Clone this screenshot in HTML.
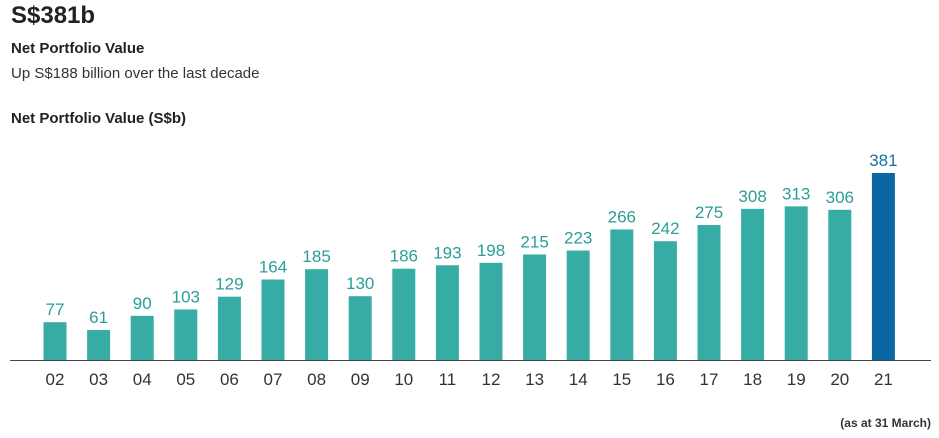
<!DOCTYPE html>
<html><head><meta charset="utf-8"><style>
body{margin:0;width:939px;height:438px;background:#fff;font-family:"Liberation Sans",sans-serif;color:#222;position:relative;overflow:hidden}
.t{position:absolute;left:11px;white-space:nowrap}
</style></head><body>
<div class="t" style="top:2px;font-size:24px;font-weight:bold">S$381b</div>
<div class="t" style="top:40px;font-size:15px;font-weight:bold">Net Portfolio Value</div>
<div class="t" style="top:65px;font-size:15px;color:#333">Up S$188 billion over the last decade</div>
<div class="t" style="top:110px;font-size:15px;font-weight:bold">Net Portfolio Value (S$b)</div>
<div style="position:absolute;right:8px;top:416px;font-size:12px;font-weight:bold;color:#333">(as at 31 March)</div>
<svg width="939" height="438" style="position:absolute;left:0;top:0" id="s"></svg>
<script>
var v=[77,61,90,103,129,164,185,130,186,193,198,215,223,266,242,275,308,313,306,381];
var s='';for(var i=0;i<20;i++){var cx=55+i*43.6,h=v[i]*0.4908,y=360-h,last=i==19;
s+='<rect x="'+(cx-11.5)+'" y="'+y+'" width="23" height="'+h+'" fill="'+(last?'#0b67a3':'#37aca5')+'"/>';
s+='<text x="'+cx+'" y="'+(y-7)+'" text-anchor="middle" font-size="17" fill="'+(last?'#1c6fa8':'#2a9e97')+'">'+v[i]+'</text>';
var yr=(i+2<10?'0':'')+(i+2);
s+='<text x="'+cx+'" y="385" text-anchor="middle" font-size="17" fill="#333">'+yr+'</text>';}
s+='<line x1="10" y1="360.5" x2="931" y2="360.5" stroke="#444" stroke-width="1"/>';
document.getElementById('s').innerHTML=s;
</script>
</body></html>
